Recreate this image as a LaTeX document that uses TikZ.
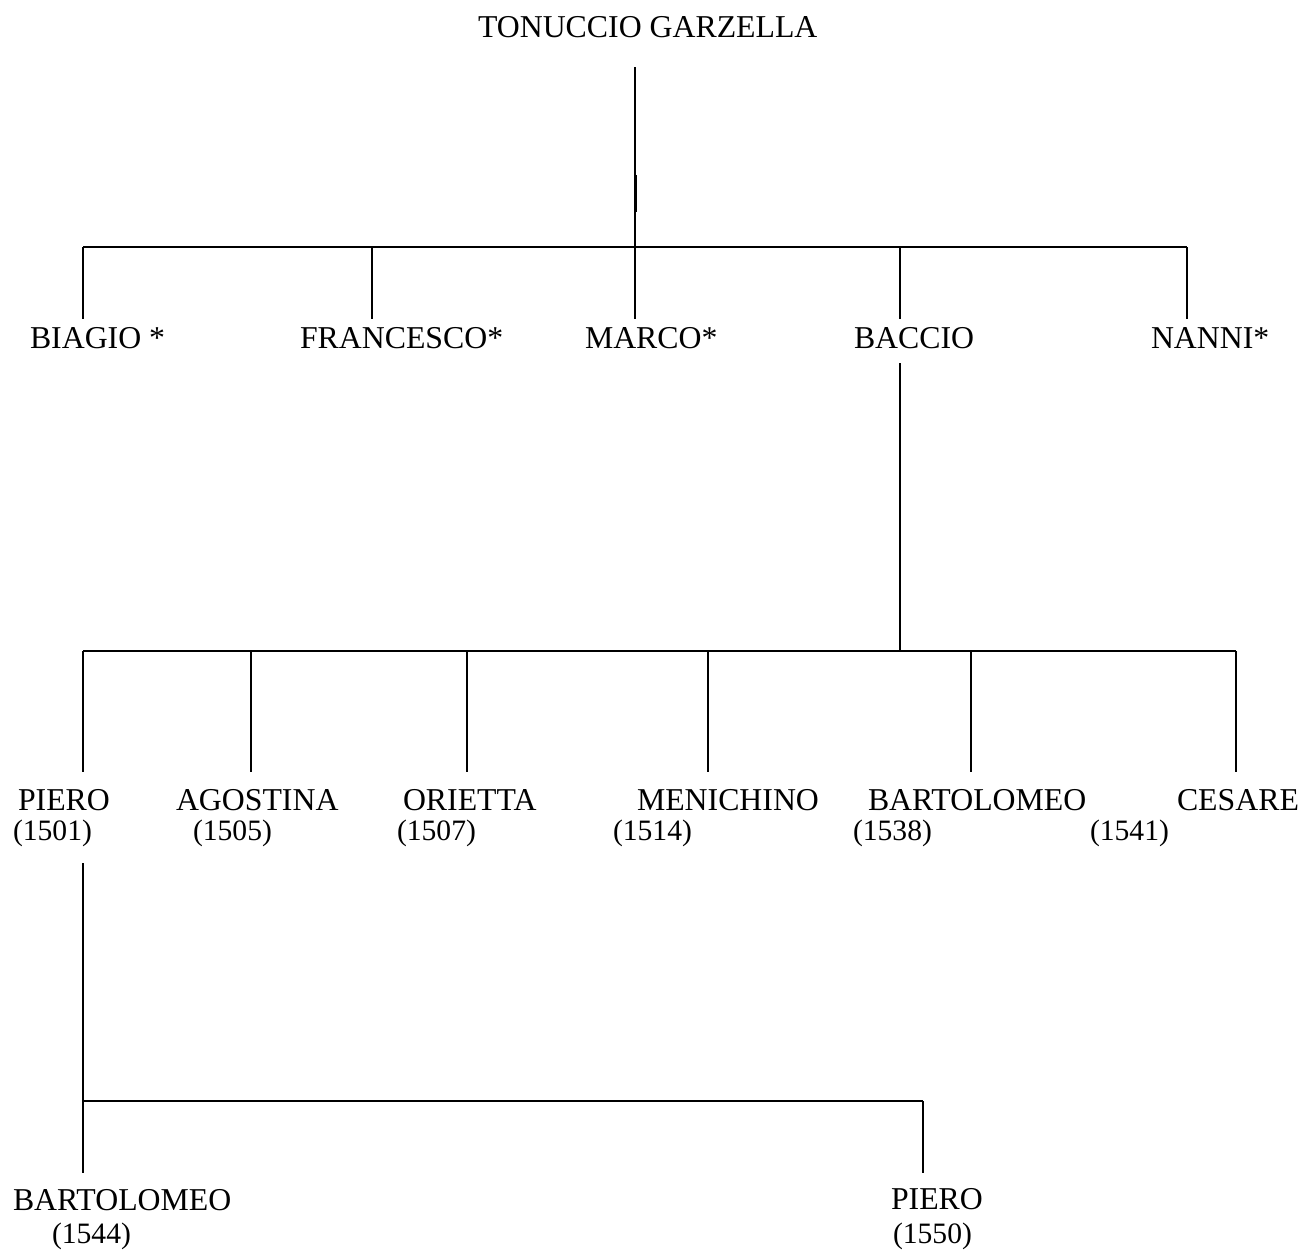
\documentclass[tikz,border=0pt]{standalone}
\usepackage{fontspec}
\setmainfont{Liberation Serif}
\begin{document}
\begin{tikzpicture}[x=1pt,y=-1pt,
  person/.style={anchor=base west,inner sep=0pt,outer sep=0pt,font=\fontsize{31.8}{34}\selectfont},
  year/.style={person,font=\fontsize{29.6}{32}\selectfont},
  link/.style={line width=2pt,line cap=butt}]
\useasboundingbox (0,0) rectangle (1306,1251);

% ---- generation 1 ----
\node[person] (tonuccio) at (478,37) {TONUCCIO GARZELLA};

% ---- generation 2 ----
\node[person] (biagio)    at (30,348)   {BIAGIO *};
\node[person] (francesco) at (300,348)  {FRANCESCO*};
\node[person] (marco)     at (585,348)  {MARCO*};
\node[person] (baccio)    at (854,348)  {BACCIO};
\node[person] (nanni)     at (1151,348) {NANNI*};

% ---- generation 3 ----
\node[person] (piero)       at (18,810)   {PIERO};
\node[person] (agostina)    at (176,810)  {AGOSTINA};
\node[person] (orietta)     at (403,810)  {ORIETTA};
\node[person] (menichino)   at (637,810)  {MENICHINO};
\node[person] (bartolomeo)  at (868,810)  {BARTOLOMEO};
\node[person] (cesare)      at (1177,810) {CESARE};
\node[year] (piero-y)      at (13,840)   {(1501)};
\node[year] (agostina-y)   at (193,840)  {(1505)};
\node[year] (orietta-y)    at (397,840)  {(1507)};
\node[year] (menichino-y)  at (613,840)  {(1514)};
\node[year] (bartolomeo-y) at (853,840)  {(1538)};
\node[year] (cesare-y)     at (1090,840) {(1541)};

% ---- generation 4 ----
\node[person] (bartolomeo2)   at (13,1210)  {BARTOLOMEO};
\node[year]   (bartolomeo2-y) at (52,1243)  {(1544)};
\node[person] (piero2)        at (891,1209) {PIERO};
\node[year]   (piero2-y)      at (893,1243) {(1550)};

% ---- line ends ----
\coordinate (tonuccio-out) at (635,67);
\coordinate (tonuccio-a)   at (635.6,175);
\coordinate (tonuccio-b)   at (635.6,212);
\coordinate (bar1-l) at (83,247);
\coordinate (bar1-r) at (1187,247);
\coordinate (bar1-biagio)    at (83,247);
\coordinate (bar1-francesco) at (372,247);
\coordinate (bar1-marco)     at (635,247);
\coordinate (bar1-baccio)    at (900,247);
\coordinate (bar1-nanni)     at (1187,247);
\coordinate (biagio-in)    at (83,319);
\coordinate (francesco-in) at (372,319);
\coordinate (marco-in)     at (635,319);
\coordinate (baccio-in)    at (900,319);
\coordinate (nanni-in)     at (1187,319);

\coordinate (baccio-out) at (900,363);
\coordinate (bar2-l) at (83,651);
\coordinate (bar2-r) at (1236,651);
\coordinate (bar2-baccio)     at (900,651);
\coordinate (bar2-piero)      at (83,651);
\coordinate (bar2-agostina)   at (251,651);
\coordinate (bar2-orietta)    at (467,651);
\coordinate (bar2-menichino)  at (708,651);
\coordinate (bar2-bartolomeo) at (971,651);
\coordinate (bar2-cesare)     at (1236,651);
\coordinate (piero-in)      at (83,772);
\coordinate (agostina-in)   at (251,772);
\coordinate (orietta-in)    at (467,772);
\coordinate (menichino-in)  at (708,772);
\coordinate (bartolomeo-in) at (971,772);
\coordinate (cesare-in)     at (1236,772);

\coordinate (piero-out) at (83,863);
\coordinate (bar3-l) at (83,1101);
\coordinate (bar3-r) at (923,1101);
\coordinate (bartolomeo2-in) at (83,1173);
\coordinate (piero2-in)      at (923,1173);

% ---- connectors ----
\draw[link] (tonuccio-out) -- (bar1-marco);
\draw[link] (tonuccio-a) -- (tonuccio-b);
\draw[link] (bar1-l) -- (bar1-r);
\foreach \c in {biagio,francesco,marco,baccio,nanni}
  \draw[link] (bar1-\c) -- (\c-in);

\draw[link] (baccio-out) -- (bar2-baccio);
\draw[link] (bar2-l) -- (bar2-r);
\foreach \c in {piero,agostina,orietta,menichino,bartolomeo,cesare}
  \draw[link] (bar2-\c) -- (\c-in);

\draw[link] (piero-out) -- (bar3-l);
\draw[link] (bar3-l) -- (bar3-r);
\draw[link] (bar3-l) -- (bartolomeo2-in);
\draw[link] (bar3-r) -- (piero2-in);
\end{tikzpicture}
\end{document}
